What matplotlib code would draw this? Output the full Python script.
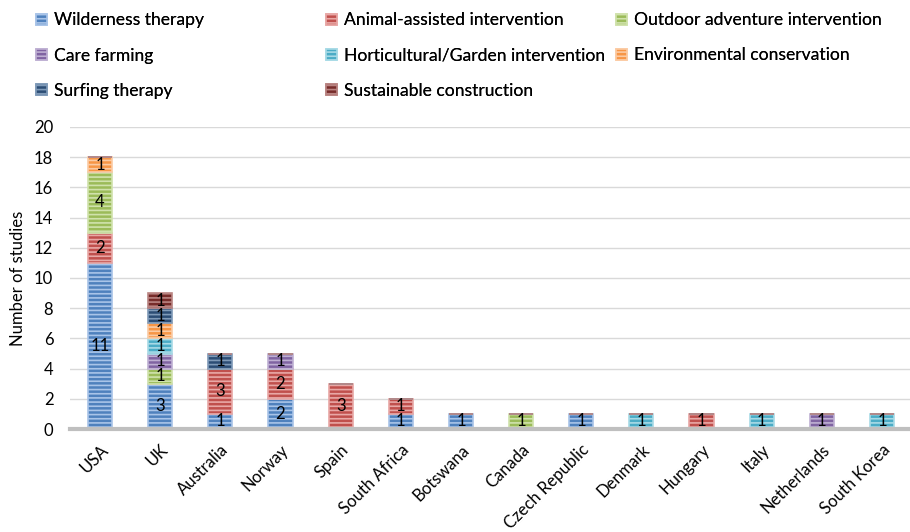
import matplotlib
matplotlib.use("Agg")
from matplotlib import pyplot as plt
import numpy as np

plt.rcParams['font.family'] = ['Lato', 'DejaVu Sans']
plt.rcParams['hatch.linewidth'] = 1.2

countries = ['USA', 'UK', 'Australia', 'Norway', 'Spain', 'South Africa',
             'Botswana', 'Canada', 'Czech Republic', 'Denmark', 'Hungary',
             'Italy', 'Netherlands', 'South Korea']

wilderness = [11, 3, 1, 2, 0, 1, 1, 0, 1, 0, 0, 0, 0, 0]
animal = [2, 0, 3, 2, 3, 1, 0, 0, 0, 0, 1, 0, 0, 0]
outdoor = [4, 1, 0, 0, 0, 0, 0, 1, 0, 0, 0, 0, 0, 0]
care_farming = [0, 1, 0, 1, 0, 0, 0, 0, 0, 0, 0, 0, 1, 0]
horticultural = [0, 1, 0, 0, 0, 0, 0, 0, 0, 1, 0, 1, 0, 1]
conservation = [1, 1, 0, 0, 0, 0, 0, 0, 0, 0, 0, 0, 0, 0]
surfing = [0, 1, 1, 0, 0, 0, 0, 0, 0, 0, 0, 0, 0, 0]
construction = [0, 1, 0, 0, 0, 0, 0, 0, 0, 0, 0, 0, 0, 0]

series = [
    ('Wilderness therapy', wilderness, '#4F81BD', '#A9C4E8'),
    ('Animal-assisted intervention', animal, '#C0504D', '#E8A8A6'),
    ('Outdoor adventure intervention', outdoor, '#9BBB59', '#D0E2AC'),
    ('Care farming', care_farming, '#8064A2', '#BFB0D3'),
    ('Horticultural/Garden intervention', horticultural, '#4BACC6', '#A8DAE6'),
    ('Environmental conservation', conservation, '#F79646', '#FBCBA4'),
    ('Surfing therapy', surfing, '#2C4D75', '#7F9AB8'),
    ('Sustainable construction', construction, '#772C2A', '#B98482'),
]

fig = plt.figure(figsize=(9.1, 5.32), dpi=100)
ax = fig.add_axes([70 / 910, 103 / 532, 842 / 910, 302 / 532])

x = np.arange(len(countries))
bottom = np.zeros(len(countries))
handles = []
for name, vals, color, light in series:
    vals = np.array(vals, dtype=float)
    bars = ax.bar(x, vals, 0.4, bottom=bottom, color=color, edgecolor=light,
                  linewidth=1.2, hatch='----', label=name, zorder=3)
    handles.append(bars)
    labels = [str(int(v)) if v > 0 else '' for v in vals]
    ax.bar_label(bars, labels=labels, label_type='center', fontsize=12,
                 color='black', zorder=4)
    bottom += vals

ax.set_xlim(-0.5, len(countries) - 0.5)
ax.set_ylim(0, 20)
ax.set_yticks(range(0, 21, 2))
ax.grid(axis='y', color='#D9D9D9', linewidth=1, zorder=0)
ax.set_axisbelow(True)
for s in ('top', 'right', 'left'):
    ax.spines[s].set_visible(False)
ax.spines['bottom'].set_color('#BFBFBF')
ax.spines['bottom'].set_linewidth(3)
ax.spines['bottom'].set_zorder(5)
ax.tick_params(axis='both', length=0, labelsize=12)
ax.tick_params(axis='y', pad=12)
ax.tick_params(axis='x', pad=9)
ax.set_xticks(x)
ax.set_xticklabels(countries, rotation=45, ha='right', rotation_mode='anchor')
ax.set_ylabel('Number of studies', fontsize=12, labelpad=6)

# legend laid out row by row, three columns
col_x = [24, 314, 604]
for c in range(3):
    hs = handles[c::3]
    leg = fig.legend(hs, [h.get_label() for h in hs], loc='upper left',
                     bbox_to_anchor=(col_x[c] / 910, 1.0), frameon=False,
                     fontsize=12.6, handlelength=0.6, handleheight=0.6,
                     handletextpad=0.4, labelspacing=1.1, borderaxespad=0.3)
    fig.add_artist(leg)

fig.savefig('out.png', dpi=100)
